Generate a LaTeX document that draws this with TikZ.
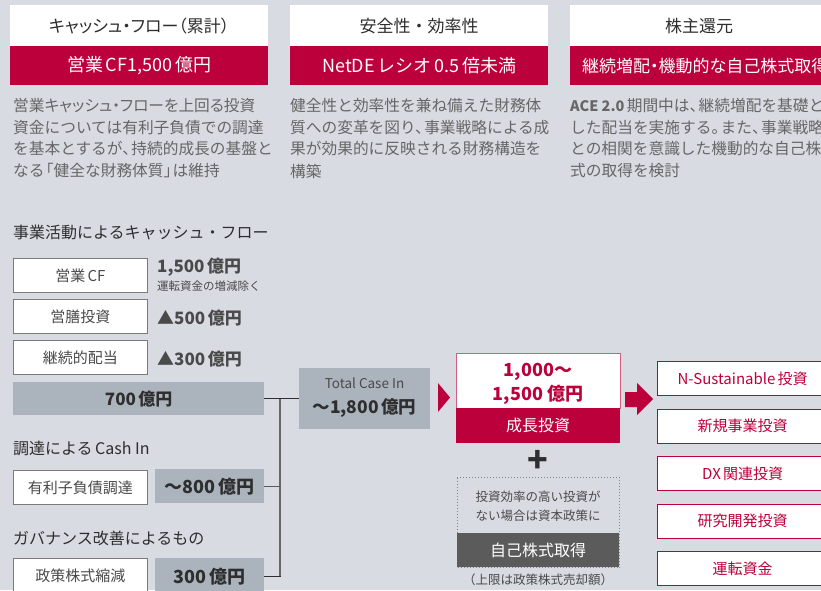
\documentclass[tikz,border=0pt]{standalone}
\usepackage{fontspec}
\setmainfont{Noto Sans CJK JP}
\definecolor{bgc}{HTML}{D8DBE2}
\definecolor{crimson}{HTML}{BC003C}
\definecolor{crimsonlight}{HTML}{D45C80}
\definecolor{graybox}{HTML}{ABB3BD}
\definecolor{darkbox}{HTML}{5B5B5B}
\definecolor{txt}{HTML}{2E2E2E}
\definecolor{desctxt}{HTML}{666666}
\definecolor{valtxt}{HTML}{4A4A4A}
\definecolor{boxline}{HTML}{7A7A7A}
\newcommand{\fsz}[1]{\fontsize{#1}{#1}\selectfont}
\newcommand{\palt}{\addfontfeatures{RawFeature=+palt}}
\newcommand{\tou}{、\kern-0.42em}
\newcommand{\kuten}{。\kern-0.42em}
\newcommand{\lkak}{\kern-0.42em「}
\newcommand{\rkak}{」\kern-0.42em}
\newcommand{\gap}{\hspace{0.15em}}
\tikzset{
  ttl/.style={inner sep=0, text=txt, font=\fsz{17}},
  whitepanel/.style={fill=white, minimum width=258, minimum height=41, inner sep=0, anchor=north west},
  redpanel/.style={fill=crimson, minimum width=258, minimum height=39, inner sep=0, anchor=north west},
  redtxt/.style={inner sep=0, text=white, font=\fsz{18}},
  desc/.style={anchor=west, inner sep=0, text=desctxt, font=\fsz{15.7}},
  head/.style={anchor=west, inner sep=0, text=txt, font=\fsz{16}},
  wbox/.style={draw=boxline, line width=0.9, fill=white, minimum width=134, minimum height=34, inner sep=0, anchor=north west, text=valtxt, font=\fsz{15}},
  gbox/.style={fill=graybox, inner sep=0, anchor=north west, text=txt, font=\bfseries\fsz{17}},
  val/.style={anchor=west, inner sep=0, text=valtxt, font=\bfseries\fsz{17}},
  rbox/.style={draw=crimson, line width=1.3, fill=white, minimum width=170, minimum height=34, inner sep=0, anchor=north west, text=crimson, font=\fsz{15}},
  conn/.style={draw=txt, line width=0.9},
  vconn/.style={draw=gray!80!black, line width=1.5},
}
\begin{document}
\begin{tikzpicture}[x=1pt,y=-1pt]
\useasboundingbox (0,0) rectangle (821,590);
\clip (0,0) rectangle (821,590);
\fill[bgc] (0,0) rectangle (821,590);

% ---------- top panels ----------
\node[whitepanel] (p1w) at (10,5) {};
\node[redpanel] (p1r) at (10,46) {};
\node[ttl] (p1t) at (p1w.center) {\palt キャッシュ・フロー（累計）};
\node[redtxt] (p1v) at (p1r.center) {営業\gap CF1,500\gap 億円};
\node[desc] (d11) at (13,106) {\palt 営業キャッシュ・フローを上回る投資};
\node[desc] (d12) at (13,128) {資金については有利子負債での調達};
\node[desc] (d13) at (13,149) {を基本とするが\tou 持続的成長の基盤と};
\node[desc] (d14) at (13,171) {なる\lkak 健全な財務体質\rkak は維持};

\node[whitepanel] (p2w) at (290,5) {};
\node[redpanel] (p2r) at (290,46) {};
\node[ttl] (p2t) at (p2w.center) {安全性・効率性};
\node[redtxt] (p2v) at (p2r.center) {NetDE\gap レシオ\gap 0.5\gap 倍未満};
\node[desc] (d21) at (290,106) {健全性と効率性を兼ね備えた財務体};
\node[desc] (d22) at (290,128) {質への変革を図り\tou 事業戦略による成};
\node[desc] (d23) at (290,149) {果が効果的に反映される財務構造を};
\node[desc] (d24) at (290,171) {構築};

\node[whitepanel] (p3w) at (570,5) {};
\node[redpanel] (p3r) at (570,46) {};
\node[ttl] (p3t) at (p3w.center) {株主還元};
\node[redtxt, anchor=west, font=\fsz{17}] (p3v) at (582,66) {\palt 継続増配・機動的な自己株式取得};
\node[desc] (d31) at (570,106) {{\bfseries\fsz{14.5}ACE 2.0}\gap 期間中は\tou 継続増配を基礎と};
\node[desc] (d32) at (570,128) {した配当を実施する\kuten また\tou 事業戦略};
\node[desc] (d33) at (570,149) {との相関を意識した機動的な自己株};
\node[desc] (d34) at (570,171) {式の取得を検討};

% ---------- left column ----------
\node[head] (h1) at (13,232) {事業活動によるキャッシュ・フロー};
\node[wbox] (b1) at (13,258) {営業\gap CF};
\node[wbox] (b2) at (13,299) {営膳投資};
\node[wbox] (b3) at (13,340) {継続的配当};
\node[val] (v1) at (157,267) {1,500\gap 億円};
\node[anchor=west, inner sep=0, text=valtxt, font=\fsz{11.5}] (v1s) at (157,286) {運転資金の増減除く};
\node[val] (v2) at (157,318) {▲500\gap 億円};
\node[val] (v3) at (157,359) {▲300\gap 億円};
\node[gbox, minimum width=251, minimum height=33] (seven) at (13,382) {700\gap 億円};

\node[head] (h2) at (13,448) {調達による\gap Cash In};
\node[wbox] (b4) at (13,470) {有利子負債調達};
\node[gbox, minimum width=109, minimum height=34, font=\bfseries\fsz{18}] (eight) at (155,469) {〜800\gap 億円};

\node[head] (h3) at (13,538) {ガバナンス改善によるもの};
\node[wbox] (b5) at (13,558) {政策株式縮減};
\node[gbox, minimum width=109, minimum height=36, font=\bfseries\fsz{18}] (three) at (155,558) {300\gap 億円};

% ---------- total ----------
\node[fill=graybox, minimum width=131, minimum height=61, inner sep=0, anchor=north west] (total) at (299,368) {};
\node[inner sep=0, text=valtxt, font=\fsz{13.5}] (tott) at (364.5,383) {Total Case In};
\node[inner sep=0, text=txt, font=\bfseries\fsz{17.5}] (totv) at (364.5,408) {〜1,800\gap 億円};

\coordinate (jt) at (280,398.5);
\coordinate (jb) at (280,576);
\draw[vconn] (jt) -- (jb);
\draw[conn] (seven.east) -- (total.west);
\draw[conn, draw=gray!70!black] (eight.east) -- (eight.east -| jt);
\draw[conn] (three.east) -- (three.east -| jt) -- (jb);

% ---------- growth ----------
\fill[crimson] (438,383) -- (450,397.5) -- (438,412) -- cycle;
\node[draw=crimsonlight, line width=1, fill=white, minimum width=164, minimum height=55, inner sep=0, anchor=north west] (gtop) at (456,353) {};
\node[fill=crimson, minimum width=164, minimum height=35, inner sep=0, anchor=north west] (gbot) at (456,408) {};
\node[inner sep=0, text=crimson, font=\bfseries\fsz{18}] (g1) at (538,372) {1,000〜};
\node[inner sep=0, text=crimson, font=\bfseries\fsz{18}] (g2) at (538,395) {1,500 億円};
\node[inner sep=0, text=white, font=\fsz{16}] (g3) at (gbot.center) {成長投資};

\node[inner sep=0, text=txt, font=\bfseries\fsz{34}] (plus) at (538,461) {+};

\node[draw=gray, dotted, line width=1, minimum width=162, minimum height=90, inner sep=0, anchor=north west] (dot) at (457,477) {};
\node[inner sep=0, text=valtxt, font=\fsz{12.5}] (n1) at (538,497) {投資効率の高い投資が};
\node[inner sep=0, text=valtxt, font=\fsz{12.5}] (n2) at (538,516) {ない場合は資本政策に};
\node[fill=darkbox, minimum width=162, minimum height=34, inner sep=0, anchor=north west, text=white, font=\fsz{16}] (buy) at (457,533) {自己株式取得};
\node[inner sep=0, text=valtxt, font=\fsz{12.5}] (lim) at (538,580) {（上限は政策株式売却額）};

% ---------- right ----------
\fill[crimson] (625,392) -- (637,392) -- (637,383) -- (653,399) -- (637,415) -- (637,407) -- (625,407) -- cycle;
\node[rbox] (r1) at (657,361) {N-Sustainable\gap 投資};
\node[rbox] (r2) at (657,408.5) {新規事業投資};
\node[rbox] (r3) at (657,456) {DX\gap 関連投資};
\node[rbox] (r4) at (657,503.5) {研究開発投資};
\node[rbox] (r5) at (657,551) {運転資金};
\end{tikzpicture}
\end{document}
